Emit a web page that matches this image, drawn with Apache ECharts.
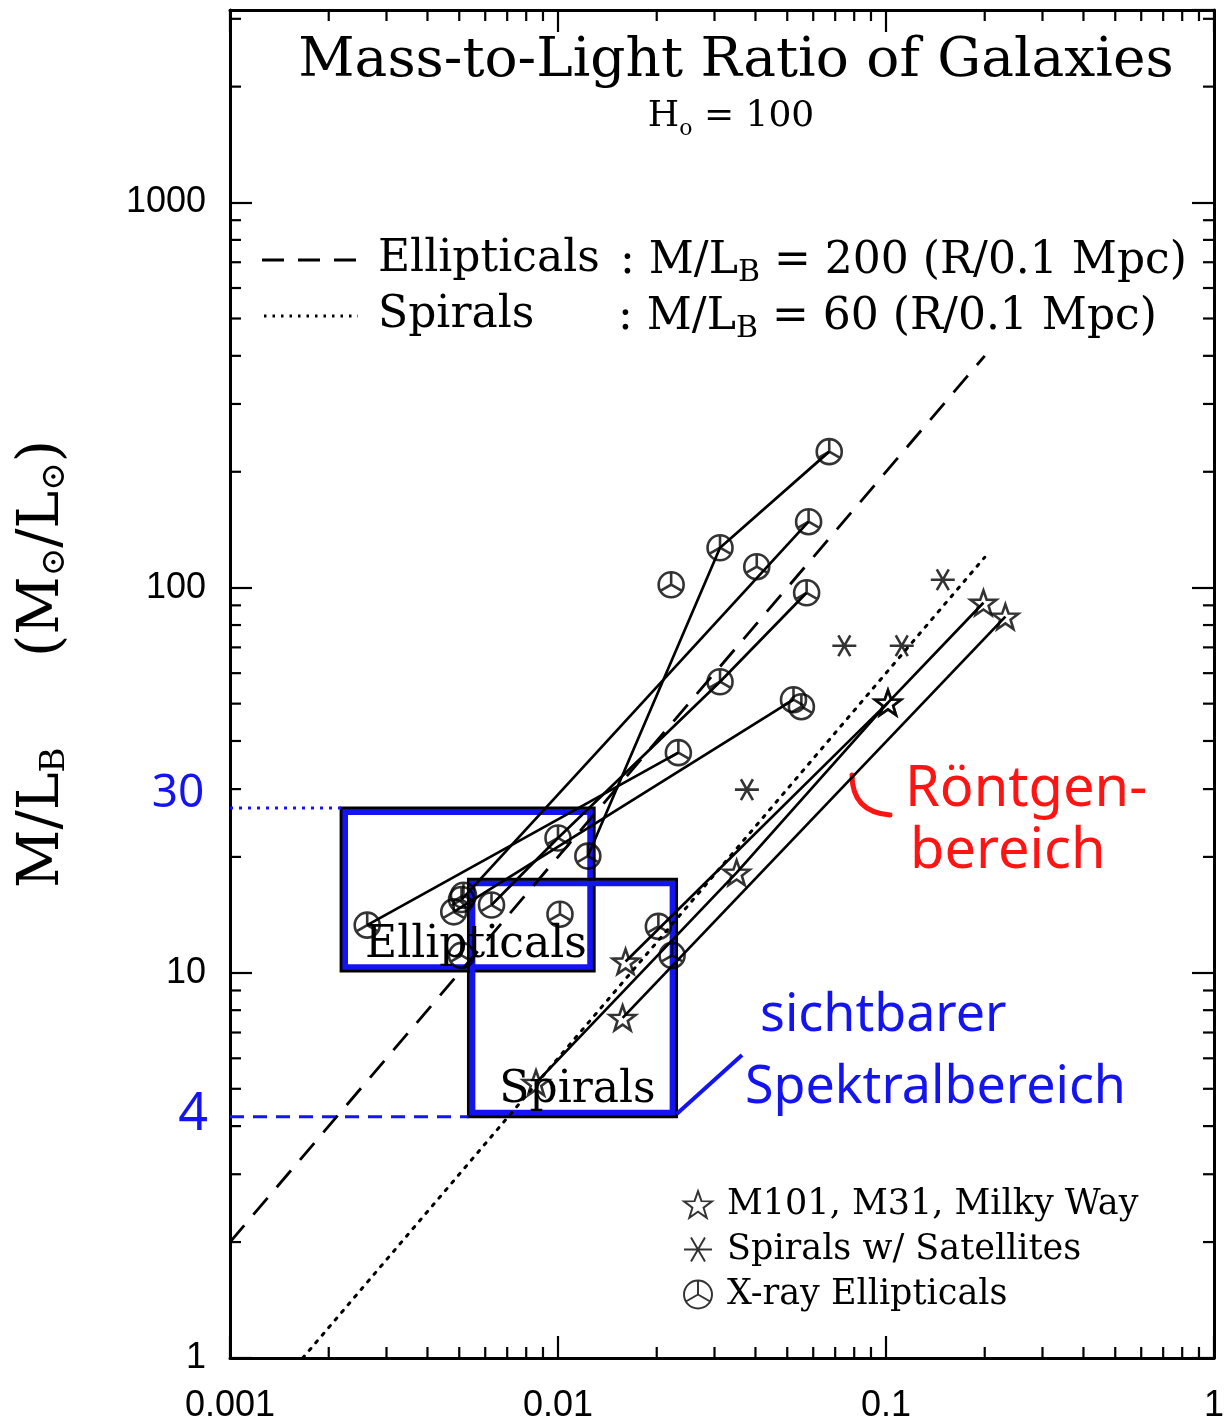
<!DOCTYPE html>
<html>
<head>
<meta charset="utf-8">
<script src="https://cdn.jsdelivr.net/npm/echarts@6/dist/echarts.min.js"></script>
<style>
html, body { margin: 0; padding: 0; background: #fff; }
#chart { width: 1227px; height: 1424px; }
</style>
</head>
<body>
<div id="chart"></div>
<script>
// Radius R (Mpc) and mass-to-light ratio M/L_B (solar units)

// X-ray ellipticals: each galaxy measured at several radii
const ellipA = [[0.00262, 13.3], [0.02328, 37.3]];
const ellipB = [[0.00481, 14.4], [0.05224, 51.2]];
const ellipC = [[0.00627, 15.0], [0.0100, 22.4], [0.03119, 57.0], [0.05728, 97.0]];
const ellipD = [[0.00508, 15.5], [0.05808, 148.4]];
const ellipE = [[0.01233, 20.1], [0.03119, 127.0], [0.06714, 225.6]];
const ellipSingle = [[0.02213, 101.8], [0.04036, 113.4], [0.05521, 49.1], [0.01014, 14.2],
                     [0.02023, 13.2], [0.02228, 11.1], [0.00508, 11.1], [0.00515, 15.9]];

// M101, M31, Milky Way
const spiralA = [[0.00857, 5.18], [0.03505, 18.2], [0.1014, 50.3], [0.1982, 91.4]];
const spiralB = [[0.01607, 10.7], [0.1014, 50.3]];
const spiralC = [[0.01574, 7.64], [0.2312, 84.1]];

// Spirals with satellites
const satellites = [[0.1490, 104.9], [0.07464, 70.7], [0.1117, 70.7], [0.03767, 29.9]];

// Model relations: Ellipticals M/L = 200 (R/0.1 Mpc), Spirals M/L = 60 (R/0.1 Mpc)
const ellipModel = [[0.001, 2], [0.2, 400]];
const spiralModel = [[1 / 600, 1], [0.2, 120]];

// Highlighted ranges: [R min, R max, M/L min, M/L max]
const ellipBox = [0.00218, 0.0129, 10.1, 26.8];
const spiralBox = [0.00533, 0.0230, 4.23, 17.5];
const visibleLink = [[0.0230, 4.3], [0.0364, 6.12]];

// Axis ranges
const xRange = [0.001, 1];
const yRange = [1, Math.pow(10, 3.5)];
const legendNames = ['M101, M31, Milky Way', 'Spirals w/ Satellites', 'X-ray Ellipticals'];

const minorX = [], minorY = [];
for (let d = -3; d < 0; d++) for (let k = 2; k <= 9; k++) minorX.push(+(k * Math.pow(10, d)).toPrecision(3));
for (let d = 0; d <= 3; d++) for (let k = 2; k <= 9; k++) {
  const v = k * Math.pow(10, d);
  if (v < yRange[1]) minorY.push(v);
}

const SERIF = 'DejaVu Serif';
const SANS = 'Liberation Sans';
const HAND = 'Noto Sans';
const BLUE = '#1414f0';
const RED = '#ff1414';

const circleSym = 'path://M-10,0 A10,10 0 1,0 10,0 A10,10 0 1,0 -10,0 Z M0,-10 L0,0 L-8.66,5 M0,0 L8.66,5';
const starSym = 'path://M0,-10 L2.35,-3.24 L9.51,-3.09 L3.8,1.24 L5.88,8.09 L0,4 L-5.88,8.09 L-3.8,1.24 L-9.51,-3.09 L-2.35,-3.24 Z';
const asteriskSym = 'path://M-10,0 L10,0 M-5,-8.66 L5,8.66 M5,-8.66 L-5,8.66';

const fmt = v => String(+(+v).toPrecision(4));

function galaxyLine(data) {
  return {
    type: 'line', data: data, symbol: 'none', silent: true, z: 3,
    lineStyle: { color: '#000', width: 2.7 }
  };
}

function markerSeries(name, data, sym, size) {
  return {
    type: 'scatter', name: name, data: data, symbol: sym, symbolSize: size,
    symbolKeepAspect: true, silent: true, z: 5,
    itemStyle: { color: 'rgba(0,0,0,0)', borderColor: '#000', borderWidth: 2.6 }
  };
}

function tickSeries(values, horizontal) {
  return {
    type: 'custom', silent: true, clip: false, z: 6,
    data: values.map(v => horizontal ? [v, yRange[0]] : [xRange[0], v]),
    renderItem: function (params, api) {
      const v = api.value(horizontal ? 0 : 1);
      const len = 11;
      let a, b, s1, s2;
      if (horizontal) {
        a = api.coord([v, yRange[0]]); b = api.coord([v, yRange[1]]);
        s1 = { x1: a[0], y1: a[1], x2: a[0], y2: a[1] - len };
        s2 = { x1: b[0], y1: b[1], x2: b[0], y2: b[1] + len };
      } else {
        a = api.coord([xRange[0], v]); b = api.coord([xRange[1], v]);
        s1 = { x1: a[0], y1: a[1], x2: a[0] + len, y2: a[1] };
        s2 = { x1: b[0], y1: b[1], x2: b[0] - len, y2: b[1] };
      }
      const st = { stroke: '#000', lineWidth: 2.2 };
      return { type: 'group', children: [
        { type: 'line', shape: s1, style: st },
        { type: 'line', shape: s2, style: st }
      ] };
    }
  };
}

function boxSeries(box) {
  return {
    type: 'custom', silent: true, z: 2,
    data: [[box[0], box[2], box[1], box[3]]],
    renderItem: function (params, api) {
      const p1 = api.coord([api.value(0), api.value(3)]);
      const p2 = api.coord([api.value(2), api.value(1)]);
      const w = p2[0] - p1[0], h = p2[1] - p1[1];
      return { type: 'group', children: [
        { type: 'rect', shape: { x: p1[0] + 4, y: p1[1] + 4, width: w - 8, height: h - 8 },
          style: { fill: 'none', stroke: BLUE, lineWidth: 6 } },
        { type: 'rect', shape: { x: p1[0], y: p1[1], width: w, height: h },
          style: { fill: 'none', stroke: '#000', lineWidth: 2.8 } }
      ] };
    }
  };
}

function logAxis(range, pos, showLabel, isX) {
  return {
    type: 'log', logBase: 10, min: range[0], max: range[1], position: pos,
    axisLine: { show: true, lineStyle: { color: '#000', width: 3 } },
    axisTick: { show: true, inside: true, length: 22, lineStyle: { color: '#000', width: 2.2 } },
    minorTick: { show: false },
    splitLine: { show: false },
    axisLabel: {
      show: showLabel, formatter: fmt, color: '#000', showMaxLabel: isX,
      fontFamily: SANS, fontSize: 36, margin: isX ? 30 : 24
    }
  };
}

const chart = echarts.init(document.getElementById('chart'), null, { renderer: 'canvas' });

const option = {
  animation: false,
  backgroundColor: '#fff',
  grid: { left: 230, right: 7, top: 10, bottom: 66, show: false },
  xAxis: [logAxis(xRange, 'bottom', true, true), logAxis(xRange, 'top', false, true)],
  yAxis: [
    Object.assign(logAxis(yRange, 'left', true, false), {
      name: '{t|M/L}{s|B}{t|     (M}{s|⊙}{t|/L}{s|⊙}{t|)}',
      nameLocation: 'middle', nameRotate: 90, nameGap: 158,
      nameTextStyle: {
        padding: [0, 0, 0, 40],
        rich: {
          t: { fontFamily: SERIF, fontSize: 57, color: '#000', verticalAlign: 'bottom', lineHeight: 68 },
          s: { fontFamily: SERIF, fontSize: 34, color: '#000', verticalAlign: 'bottom', lineHeight: 50 }
        }
      }
    }),
    logAxis(yRange, 'right', false, false)
  ],
  legend: {
    orient: 'vertical', left: 678, top: 1182, itemWidth: 28, itemHeight: 28, itemGap: 10,
    selectedMode: false, data: legendNames,
    textStyle: { fontFamily: SERIF, fontSize: 35, color: '#000', padding: [0, 0, 0, 10] }
  },
  series: [
    boxSeries(ellipBox),
    boxSeries(spiralBox),
    { type: 'line', data: [[xRange[0], ellipBox[3]], [ellipBox[0], ellipBox[3]]], symbol: 'none', silent: true, z: 2,
      lineStyle: { color: BLUE, width: 3, type: [3, 6] } },
    { type: 'line', data: [[xRange[0], spiralBox[2]], [spiralBox[0], spiralBox[2]]], symbol: 'none', silent: true, z: 2,
      lineStyle: { color: BLUE, width: 3, type: [14, 9] } },
    { type: 'line', data: visibleLink, symbol: 'none', silent: true, z: 2,
      lineStyle: { color: BLUE, width: 4 } },
    { type: 'line', data: ellipModel, symbol: 'none', silent: true, z: 3,
      lineStyle: { color: '#000', width: 2.8, type: [22, 14] } },
    { type: 'line', data: spiralModel, symbol: 'none', silent: true, z: 3,
      lineStyle: { color: '#000', width: 3, type: [2.5, 7.5], cap: 'round' } },
    galaxyLine(ellipA), galaxyLine(ellipB), galaxyLine(ellipC), galaxyLine(ellipD), galaxyLine(ellipE),
    galaxyLine(spiralA), galaxyLine(spiralB), galaxyLine(spiralC),
    markerSeries(legendNames[0], spiralA.concat(spiralB, spiralC), starSym, 26),
    markerSeries(legendNames[1], satellites, asteriskSym, 24),
    markerSeries(legendNames[2], ellipA.concat(ellipB, ellipC, ellipD, ellipE, ellipSingle), circleSym, 25),
    tickSeries(minorX, true),
    tickSeries(minorY, false)
  ]
};
chart.setOption(option);

// Texts and annotations anchored to the chart's coordinates
const px = p => chart.convertToPixel({ xAxisIndex: 0, yAxisIndex: 0 }, p);
const eTop = px([xRange[0], ellipBox[3]]);
const sBot = px([xRange[0], spiralBox[2]]);
const eLab = px([ellipBox[0], ellipBox[2]]);
const sLab = px([spiralBox[0], spiralBox[2]]);

const serifRich = {
  a: { fontFamily: SERIF, fontSize: 44, fill: '#000' },
  b: { fontFamily: SERIF, fontSize: 30, fill: '#000', padding: [22, 0, 0, 0] }
};

chart.setOption({
  graphic: [
    { type: 'text', x: 736, y: 62, style: { text: 'Mass-to-Light Ratio of Galaxies', fontFamily: SERIF,
      fontSize: 55, fill: '#000', align: 'center', verticalAlign: 'middle' } },
    { type: 'text', x: 731, y: 117, style: { text: '{a|H}{b|o}{a| = 100}', align: 'center', verticalAlign: 'middle',
      rich: { a: { fontFamily: SERIF, fontSize: 36, fill: '#000' },
              b: { fontFamily: SERIF, fontSize: 22, fill: '#000', padding: [24, 0, 0, 0] } } } },
    { type: 'line', shape: { x1: 262, y1: 260, x2: 358, y2: 260 },
      style: { stroke: '#000', lineWidth: 2.8, lineDash: [22, 14] } },
    { type: 'line', shape: { x1: 264, y1: 316, x2: 358, y2: 316 },
      style: { stroke: '#000', lineWidth: 2.8, lineDash: [2.5, 6] } },
    { type: 'text', x: 378, y: 260, style: { text: 'Ellipticals', fontFamily: SERIF, fontSize: 44, fill: '#000',
      align: 'left', verticalAlign: 'middle' } },
    { type: 'text', x: 620, y: 262, style: { text: '{a|: M/L}{b|B}{a| = 200 (R/0.1 Mpc)}', rich: serifRich,
      align: 'left', verticalAlign: 'middle' } },
    { type: 'text', x: 378, y: 316, style: { text: 'Spirals', fontFamily: SERIF, fontSize: 44, fill: '#000',
      align: 'left', verticalAlign: 'middle' } },
    { type: 'text', x: 618, y: 318, style: { text: '{a|: M/L}{b|B}{a| = 60 (R/0.1 Mpc)}', rich: serifRich,
      align: 'left', verticalAlign: 'middle' } },
    { type: 'text', x: eLab[0] + 24, y: eLab[1] - 26, z: 10, style: { text: 'Ellipticals', fontFamily: SERIF,
      fontSize: 44, fill: '#000', align: 'left', verticalAlign: 'middle' } },
    { type: 'text', x: sLab[0] + 31, y: sLab[1] - 26, z: 10, style: { text: 'Spirals', fontFamily: SERIF,
      fontSize: 44, fill: '#000', align: 'left', verticalAlign: 'middle' } },
    { type: 'text', x: 178, y: eTop[1] - 14, style: { text: '30', fontFamily: HAND,
      fontSize: 46, fill: BLUE, align: 'center', verticalAlign: 'middle' } },
    { type: 'text', x: 193, y: sBot[1] - 2, style: { text: '4', fontFamily: HAND, fontSize: 52,
      fill: BLUE, align: 'center', verticalAlign: 'middle' } },
    { type: 'text', x: 760, y: 1016, style: { text: 'sichtbarer', fontFamily: HAND, fontSize: 52,
      fill: BLUE, align: 'left', verticalAlign: 'middle' } },
    { type: 'text', x: 745, y: 1088, style: { text: 'Spektralbereich', fontFamily: HAND, fontSize: 52,
      fill: BLUE, align: 'left', verticalAlign: 'middle' } },
    { type: 'text', x: 905, y: 790, style: { text: 'Röntgen-', fontFamily: HAND, fontSize: 56,
      fill: RED, align: 'left', verticalAlign: 'middle' } },
    { type: 'text', x: 910, y: 852, style: { text: 'bereich', fontFamily: HAND, fontSize: 56,
      fill: RED, align: 'left', verticalAlign: 'middle' } },
    { type: 'bezierCurve', shape: { x1: 852, y1: 775, x2: 890, y2: 815, cpx1: 852, cpy1: 812 },
      style: { stroke: RED, lineWidth: 5, fill: 'none', lineCap: 'round' } }
  ]
});
</script>
</body>
</html>
